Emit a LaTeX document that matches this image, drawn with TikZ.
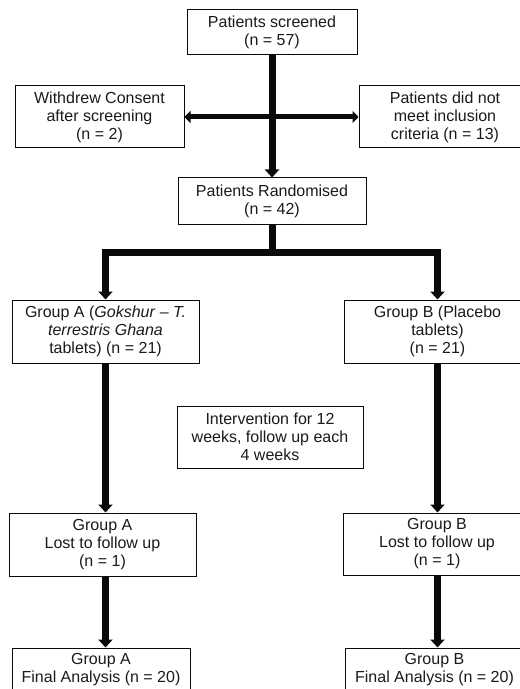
\documentclass[tikz,border=0pt]{standalone}
\usepackage{fontspec}
\setmainfont{Liberation Sans}
\usepackage{xcolor,tikz}
\usetikzlibrary{positioning,arrows.meta}
\definecolor{flowLine}{HTML}{0A0A0A}
\definecolor{flowText}{HTML}{1A1A1A}
\def\px{0.5pt}
\tikzset{
  flowbox/.style={draw=flowLine, line width=0.5pt, align=center, inner sep=0pt,
    text=flowText, font=\fontsize{8}{9}\selectfont},
  thickline/.style={draw=flowLine, line width=3.5pt},
  thickarrow/.style={thickline, -{Triangle[length=4pt,width=7pt]}},
  sidearrow/.style={draw=flowLine, line width=2.5pt,
    {Triangle[length=3pt,width=6pt]}-{Triangle[length=3pt,width=6pt]}},
}

\begin{document}
\begin{tikzpicture}[x=\px, y=-\px]

% --- CANVAS ---
\useasboundingbox (0,0) rectangle (519,689);

% --- SCREENING ---
\node[flowbox, minimum width=170*\px, minimum height=45*\px] (screen)
  at (272,32.5) {Patients screened\\(n = 57)};
\node[flowbox, minimum width=169*\px, minimum height=62*\px] (withdrew)
  at (99.5,117) {Withdrew Consent\\after screening\\(n = 2)};
\node[flowbox, minimum width=172*\px, minimum height=62*\px] (excl)
  at (445,117) {Patients did not\\meet inclusion\\criteria (n = 13)};
\node[flowbox, minimum width=188*\px, minimum height=47*\px] (random)
  at (272,201.5) {Patients Randomised\\(n = 42)};

% --- GROUPS ---
\node[flowbox, minimum width=187*\px, minimum height=63*\px] (grpA)
  at (105.5,331.5)
  {Group A (\textit{Gokshur} – \textit{T.}\\\textit{terrestris Ghana}\\tablets) (n = 21)};
\node[flowbox, minimum width=187*\px, minimum height=63*\px] (grpB)
  at (437.5,331.5) {Group B (Placebo\\tablets)\\(n = 21)};
\node[flowbox, minimum width=186*\px, minimum height=62*\px] (interv)
  at (270,437) {Intervention for 12\\weeks, follow up each\\4 weeks};

% --- FOLLOW UP ---
\node[flowbox, minimum width=187*\px, minimum height=63*\px] (lostA)
  at (102.5,544.5) {Group A\\Lost to follow up\\(n = 1)};
\node[flowbox, minimum width=188*\px, minimum height=62*\px] (lostB)
  at (437,544) {Group B\\Lost to follow up\\(n = 1)};
\node[flowbox, minimum width=178*\px, minimum height=44*\px] (finA)
  at (101,670) {Group A\\Final Analysis (n = 20)};
\node[flowbox, minimum width=179*\px, minimum height=44*\px] (finB)
  at (434.5,670) {Group B\\Final Analysis (n = 20)};

% --- CONNECTORS ---
\draw[sidearrow] (withdrew) -- (excl);
\draw[thickarrow] (screen) -- (random);
\coordinate (split) at (272,253);
\draw[thickline] (random) -- (split);
\draw[thickarrow] (split) -| (grpA);
\draw[thickarrow] (split) -| (grpB);
\draw[thickarrow] (grpA.south) -- (grpA.south |- lostA.north);
\draw[thickarrow] (lostA.south -| grpA.south) -- (grpA.south |- finA.north);
\draw[thickarrow] (grpB.south) -- (grpB.south |- lostB.north);
\draw[thickarrow] (lostB.south -| grpB.south) -- (grpB.south |- finB.north);

\end{tikzpicture}
\end{document}
